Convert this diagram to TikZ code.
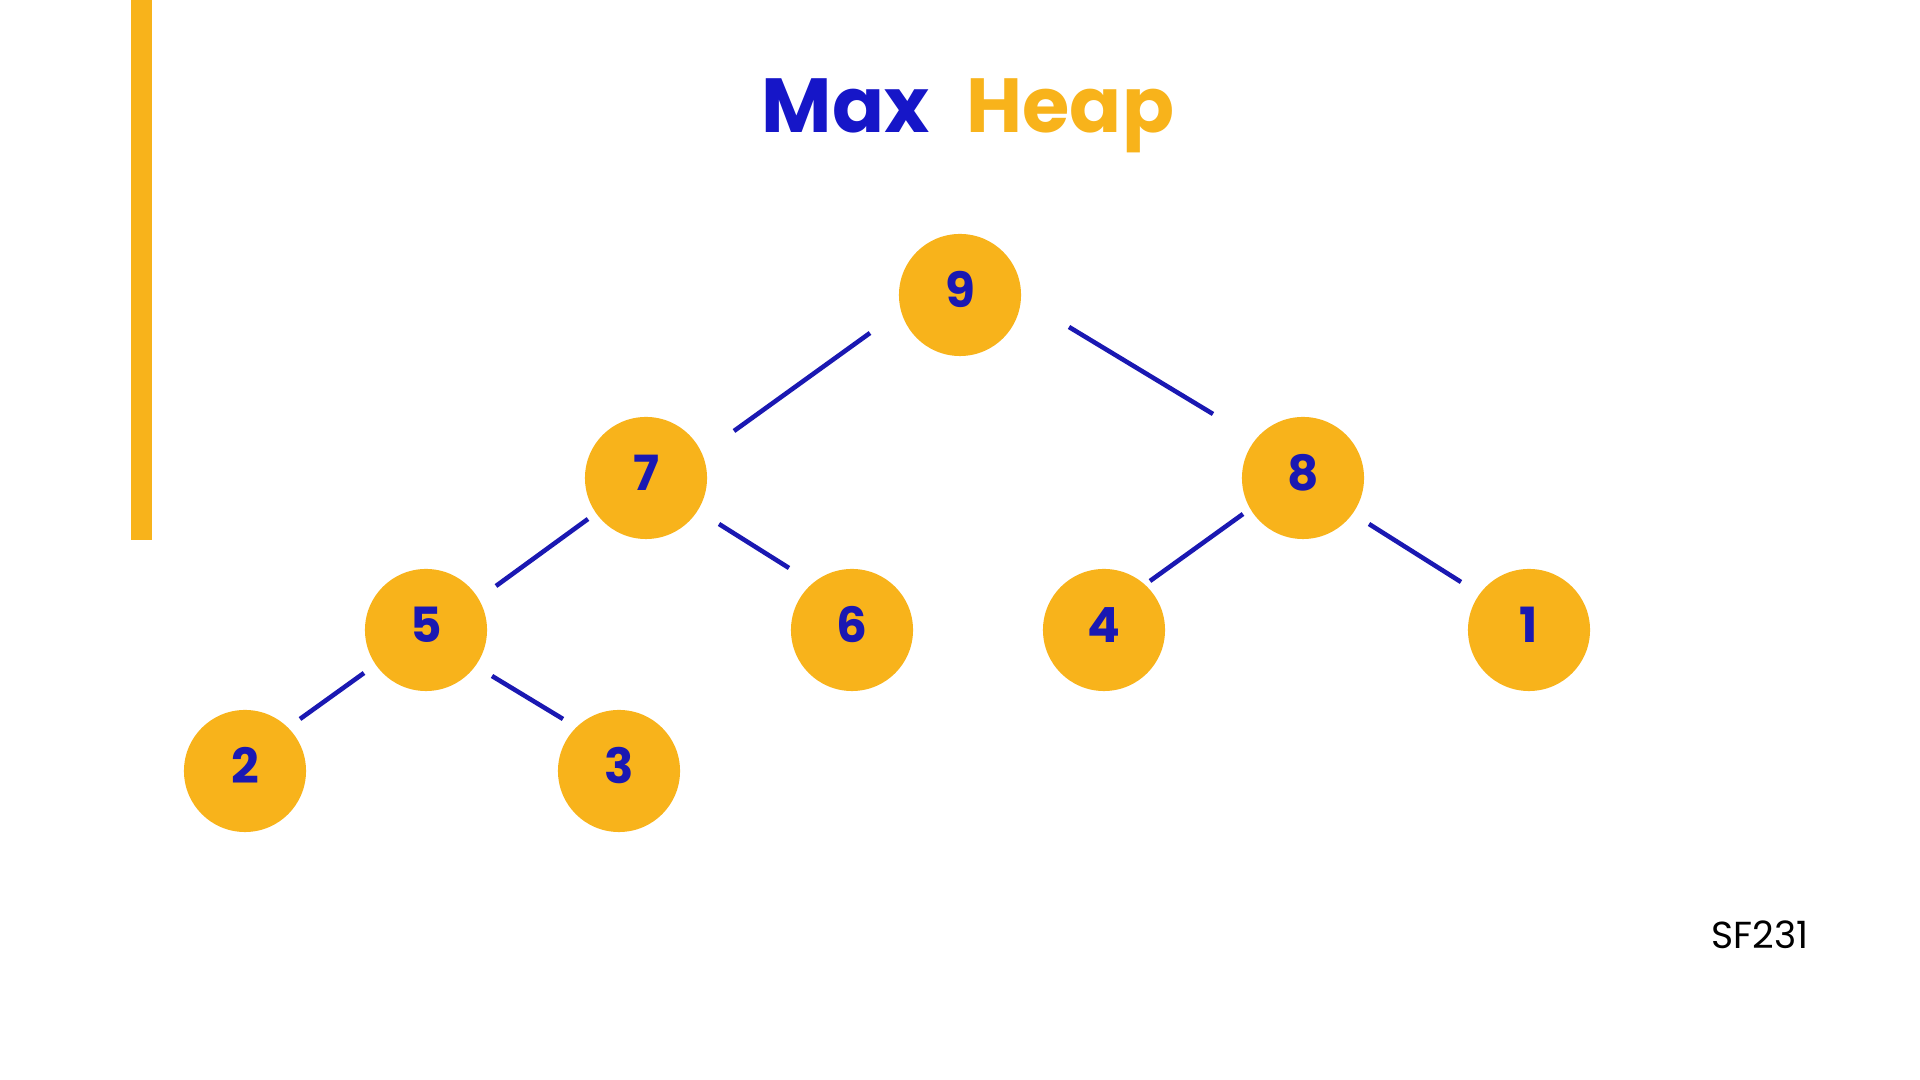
\documentclass[tikz,border=0pt]{standalone}
\usepackage{fontspec}
\setmainfont{Poppins}
\definecolor{heapyellow}{RGB}{248,179,27}
\definecolor{heapblue}{RGB}{26,24,178}
\definecolor{titleblue}{RGB}{22,22,200}
\tikzset{
  heapnode/.style={circle,fill=heapyellow,minimum size=1.22cm,inner sep=0pt,
    text depth=3.1pt,text=heapblue,font=\fontsize{13.8}{14}\selectfont\bfseries},
  edge/.style={draw=heapblue,line width=1.3pt},
  titletext/.style={anchor=base west,inner sep=0pt,font=\fontsize{21.8}{24}\selectfont\bfseries},
}
\begin{document}
\begin{tikzpicture}[x=0.01cm,y=-0.01cm]
\useasboundingbox[fill=white] (0,0) rectangle (1920,1080);
% side bar
\fill[heapyellow] (131,0) rectangle (152,540);
% title
\node[titletext,text=titleblue] (tmax) at (761,133) {Max};
\node[titletext,text=heapyellow] (theap) at (966,133) {Heap};
% nodes
\node[heapnode] (n9) at (960,295) {9};
\node[heapnode] (n7) at (646,478) {7};
\node[heapnode] (n8) at (1303,478) {8};
\node[heapnode] (n5) at (426,630) {5};
\node[heapnode] (n6) at (852,630) {6};
\node[heapnode] (n4) at (1104,630) {4};
\node[heapnode] (n1) at (1529,630) {1};
\node[heapnode] (n2) at (245,771) {2};
\node[heapnode] (n3) at (619,771) {3};
% connectors
\draw[edge] ([shift={(-90,38)}]n9.center) -- ([shift={(88,-47)}]n7.center);
\draw[edge] ([shift={(109,32)}]n9.center) -- ([shift={(-90,-64)}]n8.center);
\draw[edge] ([shift={(-58,41)}]n7.center) -- ([shift={(70,-44)}]n5.center);
\draw[edge] ([shift={(73,46)}]n7.center) -- ([shift={(-63,-62)}]n6.center);
\draw[edge] ([shift={(-60,36)}]n8.center) -- ([shift={(46,-49)}]n4.center);
\draw[edge] ([shift={(66,46)}]n8.center) -- ([shift={(-68,-48)}]n1.center);
\draw[edge] ([shift={(-62,43)}]n5.center) -- ([shift={(55,-52)}]n2.center);
\draw[edge] ([shift={(66,46)}]n5.center) -- ([shift={(-56,-52)}]n3.center);
% footer
\node[anchor=base west,inner sep=0pt,font=\fontsize{10.7}{12}\selectfont] (code) at (1711,949) {SF231};
\end{tikzpicture}
\end{document}
